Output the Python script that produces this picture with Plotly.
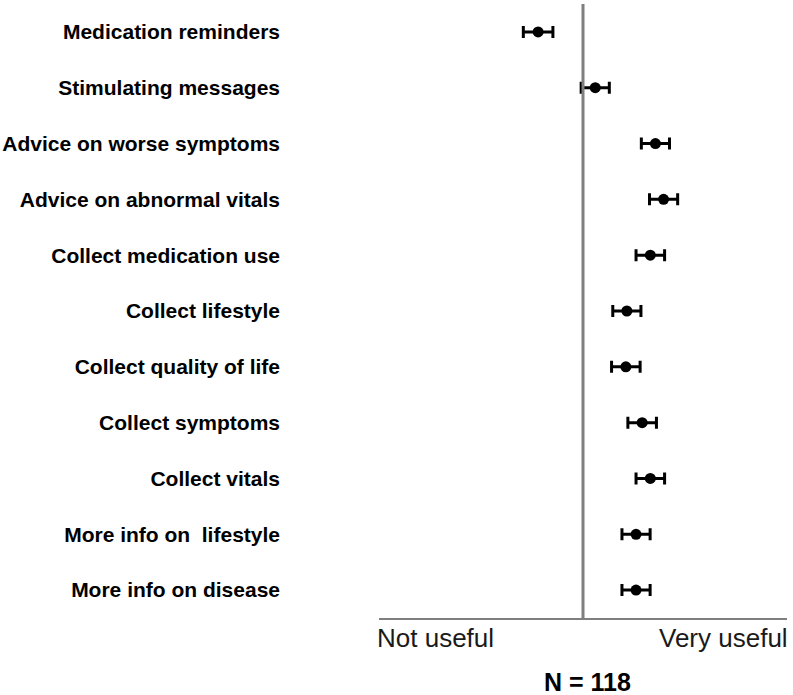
import plotly.graph_objects as go

categories = [
    "Medication reminders",
    "Stimulating messages",
    "Advice on worse symptoms",
    "Advice on abnormal vitals",
    "Collect medication use",
    "Collect lifestyle",
    "Collect quality of life",
    "Collect symptoms",
    "Collect vitals",
    "More info on  lifestyle",
    "More info on disease",
]
means = [2.56, 3.12, 3.71, 3.79, 3.66, 3.43, 3.42, 3.58, 3.66, 3.52, 3.52]
errors = [0.145, 0.138, 0.138, 0.138, 0.14, 0.138, 0.14, 0.14, 0.14, 0.138, 0.138]
x_min, x_mid, x_max = 1, 3, 5
end_labels = ["Not useful", "Very useful"]
n_label = "N = 118"

FONT = "Liberation Sans, Arial, sans-serif"

fig = go.Figure()
fig.add_trace(go.Scatter(
    x=means, y=categories, mode="markers",
    marker=dict(color="black", size=11),
    error_x=dict(type="data", array=errors, color="black", thickness=3, width=6),
    showlegend=False,
))

fig.add_shape(type="line", xref="x", yref="paper", x0=x_mid, x1=x_mid, y0=0, y1=1.0,
              line=dict(color="#7f7f7f", width=3))

fig.add_annotation(text=end_labels[0], xref="paper", yref="paper", x=0, y=0,
                   xanchor="left", yanchor="top", yshift=-3, xshift=-4, showarrow=False,
                   font=dict(family=FONT, size=26, color="#1a1a1a"))
fig.add_annotation(text=end_labels[1], xref="paper", yref="paper", x=1, y=0,
                   xanchor="right", yanchor="top", yshift=-3, xshift=3, showarrow=False,
                   font=dict(family=FONT, size=26, color="#1a1a1a"))
fig.add_annotation(text="<b>" + n_label + "</b>", xref="paper", yref="paper", x=0.5, y=0,
                   xanchor="center", yanchor="top", yshift=-48, xshift=4, showarrow=False,
                   font=dict(family=FONT, size=25, color="black"))

fig.update_layout(
    width=793, height=695,
    margin=dict(l=379, r=6, t=4, b=77, autoexpand=False),
    plot_bgcolor="white", paper_bgcolor="white",
    font=dict(family=FONT, color="black"),
    xaxis=dict(range=[x_min, x_max], showgrid=False, zeroline=False,
               showticklabels=False, ticks="", showline=True, automargin=False,
               linecolor="#7f7f7f", linewidth=2, fixedrange=True),
    yaxis=dict(categoryorder="array", categoryarray=categories,
               range=[len(categories) - 0.5, -0.5], showgrid=False, zeroline=False,
               ticks="", showline=False, ticklabelstandoff=98, automargin=False,
               tickfont=dict(family=FONT, size=21, color="black"),
               tickprefix="<b>", ticksuffix="</b>"),
)

fig.write_html("out.html", config={"displayModeBar": False},
               post_script="document.body.style.margin='0';document.body.style.overflow='hidden';")
